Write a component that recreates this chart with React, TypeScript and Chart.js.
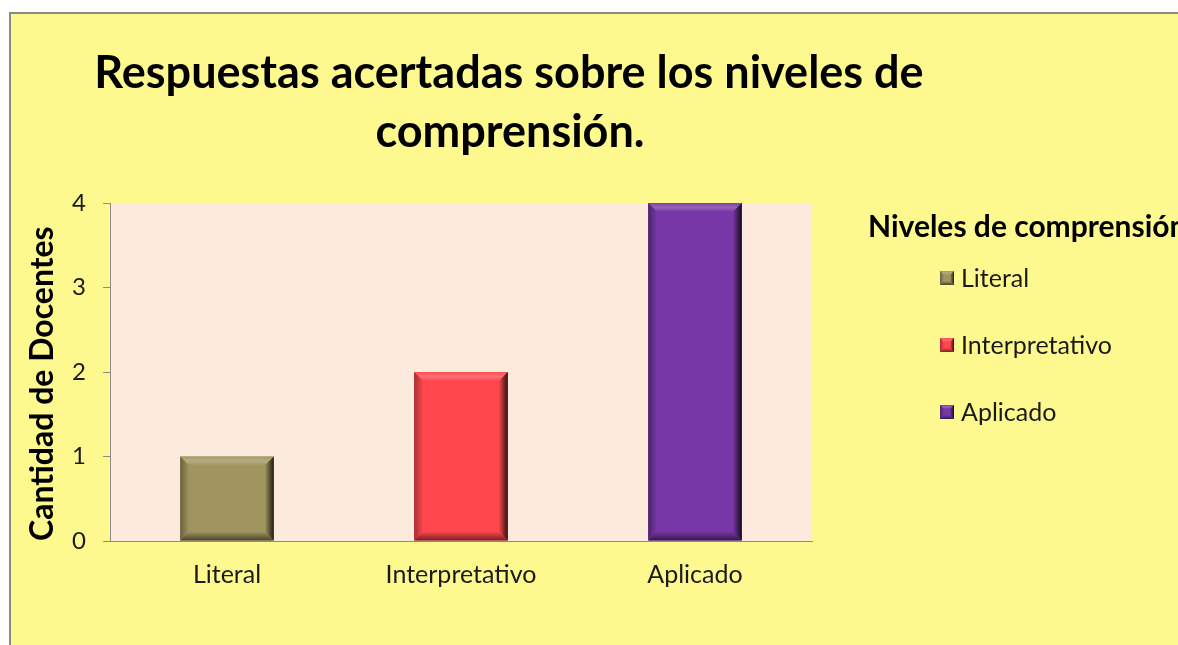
import React, { useEffect, useRef } from 'react';
import { Chart, registerables } from 'chart.js';

Chart.register(...registerables);

const categories = ['Literal', 'Interpretativo', 'Aplicado'];
const values = [1, 2, 4];
const barColors = ['#A0955F', '#FF474D', '#7737A6'];
const yMin = 0;
const yMax = 4;
const yStep = 1;
const titleLines = ['Respuestas acertadas sobre los niveles de', 'comprensión.'];
const yAxisTitle = 'Cantidad de Docentes';
const legendTitle = 'Niveles de comprensión';

const FONT = 'Lato, "Open Sans", sans-serif';

function shade(hex: string, amt: number): string {
  const n = parseInt(hex.slice(1), 16);
  let r = (n >> 16) & 255, g = (n >> 8) & 255, b = n & 255;
  if (amt >= 0) {
    r = Math.round(r + (255 - r) * amt);
    g = Math.round(g + (255 - g) * amt);
    b = Math.round(b + (255 - b) * amt);
  } else {
    r = Math.round(r * (1 + amt));
    g = Math.round(g * (1 + amt));
    b = Math.round(b * (1 + amt));
  }
  return `rgb(${r},${g},${b})`;
}

function drawBevel(ctx: CanvasRenderingContext2D, left: number, top: number, right: number, bottom: number, color: string, b: number) {
  ctx.save();
  // top
  ctx.beginPath();
  ctx.moveTo(left, top); ctx.lineTo(right, top); ctx.lineTo(right - b, top + b); ctx.lineTo(left + b, top + b); ctx.closePath();
  const gt = ctx.createLinearGradient(0, top, 0, top + b);
  gt.addColorStop(0, shade(color, 0.05));
  gt.addColorStop(0.5, shade(color, 0.22));
  gt.addColorStop(1, color);
  ctx.fillStyle = gt; ctx.fill();
  // left
  ctx.beginPath();
  ctx.moveTo(left, top); ctx.lineTo(left + b, top + b); ctx.lineTo(left + b, bottom - b); ctx.lineTo(left, bottom); ctx.closePath();
  const gl = ctx.createLinearGradient(left, 0, left + b, 0);
  gl.addColorStop(0, shade(color, -0.35));
  gl.addColorStop(1, color);
  ctx.fillStyle = gl; ctx.fill();
  // right
  ctx.beginPath();
  ctx.moveTo(right, top); ctx.lineTo(right, bottom); ctx.lineTo(right - b, bottom - b); ctx.lineTo(right - b, top + b); ctx.closePath();
  const gr = ctx.createLinearGradient(right - b, 0, right, 0);
  gr.addColorStop(0, color);
  gr.addColorStop(0.6, shade(color, -0.5));
  gr.addColorStop(1, shade(color, -0.8));
  ctx.fillStyle = gr; ctx.fill();
  // bottom
  ctx.beginPath();
  ctx.moveTo(left, bottom); ctx.lineTo(right, bottom); ctx.lineTo(right - b, bottom - b); ctx.lineTo(left + b, bottom - b); ctx.closePath();
  const gb = ctx.createLinearGradient(0, bottom - b, 0, bottom);
  gb.addColorStop(0, color);
  gb.addColorStop(1, shade(color, -0.55));
  ctx.fillStyle = gb; ctx.fill();
  ctx.restore();
}

const backgroundPlugin = {
  id: 'bgPlugin',
  beforeDraw(chart: any) {
    const { ctx, width, height, chartArea } = chart;
    ctx.save();
    ctx.fillStyle = '#ffffff';
    ctx.fillRect(0, 0, width, height);
    ctx.fillStyle = '#FDF98E';
    ctx.fillRect(11, 14, width - 11, height - 14);
    ctx.strokeStyle = '#8a8a8a';
    ctx.lineWidth = 2;
    ctx.beginPath();
    ctx.moveTo(10, height); ctx.lineTo(10, 13); ctx.lineTo(width, 13);
    ctx.stroke();
    ctx.fillStyle = '#FCEADC';
    ctx.fillRect(chartArea.left, chartArea.top, chartArea.right - chartArea.left, chartArea.bottom - chartArea.top);
    ctx.restore();
  },
};

const bevelPlugin = {
  id: 'bevelPlugin',
  afterDatasetsDraw(chart: any) {
    const { ctx } = chart;
    const meta = chart.getDatasetMeta(0);
    meta.data.forEach((el: any, i: number) => {
      const { x, y, base, width } = el.getProps(['x', 'y', 'base', 'width'], true);
      const left = x - width / 2, right = x + width / 2;
      const top = Math.min(y, base), bottom = Math.max(y, base);
      const b = Math.min(9, (bottom - top) / 2, width / 2);
      drawBevel(ctx, left, top, right, bottom, barColors[i], b);
    });
  },
};

const textPlugin = {
  id: 'textPlugin',
  afterDraw(chart: any) {
    const { ctx } = chart;
    ctx.save();
    // title
    ctx.fillStyle = '#000';
    ctx.font = `bold 45px ${FONT}`;
    ctx.textAlign = 'center';
    ctx.textBaseline = 'alphabetic';
    ctx.fillText(titleLines[0], 509, 88);
    ctx.fillText(titleLines[1], 510, 147);
    // legend
    ctx.textAlign = 'left';
    ctx.font = `bold 30px ${FONT}`;
    ctx.fillText(legendTitle, 868, 237);
    ctx.font = `25px ${FONT}`;
    const labels = chart.data.labels as string[];
    labels.forEach((lab: string, i: number) => {
      const baseY = 287 + i * 67;
      const cy = baseY - 9;
      const s = 14;
      const l = 940, t = cy - s / 2;
      ctx.fillStyle = barColors[i];
      ctx.fillRect(l, t, s, s);
      drawBevel(ctx, l, t, l + s, t + s, barColors[i], 4);
      ctx.fillStyle = '#1a1a1a';
      ctx.fillText(lab, 961, baseY);
    });
    ctx.restore();
  },
};

export default function App() {
  const ref = useRef<HTMLCanvasElement | null>(null);

  useEffect(() => {
    let chart: Chart | null = null;
    let cancelled = false;
    const make = () => {
      if (cancelled || !ref.current) return;
      chart = new Chart(ref.current, {
        type: 'bar',
        data: {
          labels: categories,
          datasets: [
            {
              data: values,
              backgroundColor: barColors,
              borderWidth: 0,
              barPercentage: 0.4,
              categoryPercentage: 1,
            },
          ],
        },
        options: {
          responsive: false,
          animation: false,
          layout: { padding: { left: 19, top: 203, right: 366, bottom: 40 } },
          plugins: {
            legend: { display: false },
            tooltip: { enabled: false },
            title: { display: false },
          },
          scales: {
            x: {
              grid: { display: false, drawTicks: false },
              border: { display: true, color: '#8c8c8c', width: 1 },
              ticks: { color: '#1a1a1a', font: { family: FONT, size: 25 }, padding: 19 },
              afterFit: (s: any) => { s.height = 645 - 40 - 541; },
            },
            y: {
              min: yMin,
              max: yMax,
              ticks: { stepSize: yStep, color: '#1a1a1a', font: { family: FONT, size: 24 }, padding: 17 },
              grid: { display: true, drawOnChartArea: false, drawTicks: true, tickLength: 7, tickColor: '#8c8c8c', lineWidth: 1 },
              border: { display: true, color: '#8c8c8c', width: 1 },
              title: {
                display: true,
                text: yAxisTitle,
                align: 'start',
                color: '#000',
                font: { family: FONT, size: 32, weight: 'bold' },
                padding: { top: 4, bottom: 0 },
              },
              afterFit: (s: any) => { s.width = 110 - 19; },
            },
          },
        },
        plugins: [backgroundPlugin, bevelPlugin, textPlugin],
      } as any);
    };
    const fonts: any = (document as any).fonts;
    if (fonts && fonts.load) {
      Promise.all([
        fonts.load(`bold 40px Lato`),
        fonts.load(`21px Lato`),
      ]).then(make, make);
    } else {
      make();
    }
    return () => {
      cancelled = true;
      if (chart) chart.destroy();
    };
  }, []);

  return (
    <div style={{ position: 'absolute', left: 0, top: 0, width: 1178, height: 645 }}>
      <canvas ref={ref} width={1178} height={645} style={{ display: 'block', width: 1178, height: 645 }} />
    </div>
  );
}
